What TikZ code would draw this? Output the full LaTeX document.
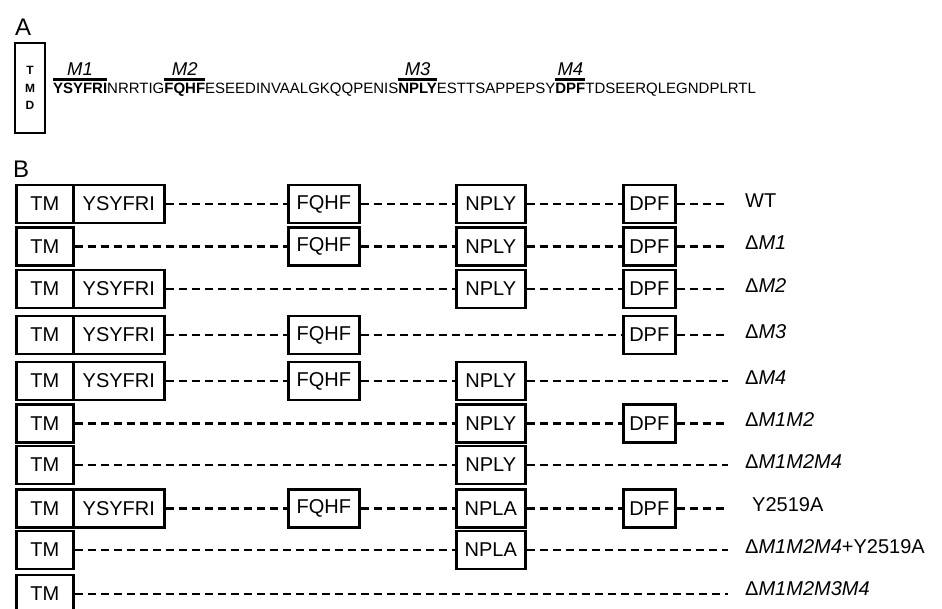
\documentclass[tikz,border=0pt]{standalone}
\usepackage{fontspec}
\setmainfont{Liberation Sans}
\usetikzlibrary{positioning}

\begin{document}
\begin{tikzpicture}[
  x=1pt, y=-1pt,
  box/.style={
    draw, line width=2.6pt, anchor=west,
    minimum height=38pt, inner sep=0pt,
    font=\fontsize{20}{22}\selectfont
  },
  tmbox/.style={box, minimum width=57pt},
  ysybox/.style={box, minimum width=91pt},
  fqhfbox/.style={box, minimum width=71pt},
  nplybox/.style={box, minimum width=69pt},
  dpfbox/.style={box, minimum width=52pt},
  link/.style={line width=2.4pt, dash pattern=on 8pt off 5pt},
  seq/.style={inner sep=0pt, outer sep=0pt, font=\fontsize{15}{17}\selectfont},
  motif/.style={seq, font=\fontsize{15}{17}\selectfont\bfseries},
  mlab/.style={inner sep=0pt, font=\fontsize{18.5}{20}\selectfont\itshape},
  rowlab/.style={anchor=base west, inner sep=0pt, font=\fontsize{20}{22}\selectfont},
  panel/.style={anchor=base west, inner sep=0pt, font=\fontsize{24}{26}\selectfont}
]
  \useasboundingbox (0,0) rectangle (942,608);
  \clip (0,0) rectangle (942,608);

  % panel A
  \node[panel] (pa) at (15,35) {A};
  \node[draw, line width=2.6pt, minimum width=30pt, minimum height=90pt, inner sep=0pt,
        align=center, font=\fontsize{12}{17.5}\selectfont\bfseries] (tmd) at (30,88) {T\\M\\D};

  \node[motif, anchor=base west] (s1) at (53,93) {YSYFRI};
  \node[seq, base right=0pt of s1] (s2) {NRRTIG};
  \node[motif, base right=0pt of s2] (s3) {FQHF};
  \node[seq, base right=0pt of s3] (s4) {ESEEDINVAALGKQQPENIS};
  \node[motif, base right=0pt of s4] (s5) {NPLY};
  \node[seq, base right=0pt of s5] (s6) {ESTTSAPPEPSY};
  \node[motif, base right=0pt of s6] (s7) {DPF};
  \node[seq, base right=0pt of s7] (s8) {TDSEERQLEGNDPLRTL};

  \foreach \s/\m in {s1/M1, s3/M2, s5/M3, s7/M4} {
    \draw[line width=2.8pt] ([yshift=2.8pt]\s.north west) -- ([yshift=2.8pt]\s.north east);
    \node[mlab, above=7pt of \s] (lab\m) {\m};
  }

  % panel B
  \node[panel] (pb) at (13,177) {B};

  % WT
  \node[tmbox] (tm1) at (15,204) {TM};
  \node[ysybox] (ysy1) at (72,204) {YSYFRI};
  \node[fqhfbox] (fqhf1) at (287,204) {FQHF};
  \node[nplybox] (nply1) at (455,204) {NPLY};
  \node[dpfbox] (dpf1) at (622,204) {DPF};
  \coordinate (end1) at (728,204);
  \node[rowlab] (row1) at (745,207) {WT};
  \draw[link] (ysy1) -- (fqhf1) (fqhf1) -- (nply1) (nply1) -- (dpf1) (dpf1) -- (end1);

  % dM1
  \node[tmbox] (tm2) at (15,246.5) {TM};
  \node[fqhfbox] (fqhf2) at (287,246.5) {FQHF};
  \node[nplybox] (nply2) at (455,246.5) {NPLY};
  \node[dpfbox] (dpf2) at (622,246.5) {DPF};
  \coordinate (end2) at (728,246.5);
  \node[rowlab] (row2) at (745,249.5) {Δ\textit{M1}};
  \draw[link] (tm2) -- (fqhf2) (fqhf2) -- (nply2) (nply2) -- (dpf2) (dpf2) -- (end2);

  % dM2
  \node[tmbox] (tm3) at (15,289) {TM};
  \node[ysybox] (ysy3) at (72,289) {YSYFRI};
  \node[nplybox] (nply3) at (455,289) {NPLY};
  \node[dpfbox] (dpf3) at (622,289) {DPF};
  \coordinate (end3) at (728,289);
  \node[rowlab] (row3) at (745,292) {Δ\textit{M2}};
  \draw[link] (ysy3) -- (nply3) (nply3) -- (dpf3) (dpf3) -- (end3);

  % dM3
  \node[tmbox] (tm4) at (15,335) {TM};
  \node[ysybox] (ysy4) at (72,335) {YSYFRI};
  \node[fqhfbox] (fqhf4) at (287,335) {FQHF};
  \node[dpfbox] (dpf4) at (622,335) {DPF};
  \coordinate (end4) at (728,335);
  \node[rowlab] (row4) at (745,338) {Δ\textit{M3}};
  \draw[link] (ysy4) -- (fqhf4) (fqhf4) -- (dpf4) (dpf4) -- (end4);

  % dM4
  \node[tmbox] (tm5) at (15,381) {TM};
  \node[ysybox] (ysy5) at (72,381) {YSYFRI};
  \node[fqhfbox] (fqhf5) at (287,381) {FQHF};
  \node[nplybox] (nply5) at (455,381) {NPLY};
  \coordinate (end5) at (728,381);
  \node[rowlab] (row5) at (745,384) {Δ\textit{M4}};
  \draw[link] (ysy5) -- (fqhf5) (fqhf5) -- (nply5) (nply5) -- (end5);

  % dM1M2
  \node[tmbox] (tm6) at (15,423.5) {TM};
  \node[nplybox] (nply6) at (455,423.5) {NPLY};
  \node[dpfbox] (dpf6) at (622,423.5) {DPF};
  \coordinate (end6) at (728,423.5);
  \node[rowlab] (row6) at (745,426.5) {Δ\textit{M1M2}};
  \draw[link] (tm6) -- (nply6) (nply6) -- (dpf6) (dpf6) -- (end6);

  % dM1M2M4
  \node[tmbox] (tm7) at (15,465) {TM};
  \node[nplybox] (nply7) at (455,465) {NPLY};
  \coordinate (end7) at (728,465);
  \node[rowlab] (row7) at (745,468) {Δ\textit{M1M2M4}};
  \draw[link] (tm7) -- (nply7) (nply7) -- (end7);

  % Y2519A
  \node[tmbox] (tm8) at (15,508.5) {TM};
  \node[ysybox] (ysy8) at (72,508.5) {YSYFRI};
  \node[fqhfbox] (fqhf8) at (287,508.5) {FQHF};
  \node[nplybox] (npla8) at (455,508.5) {NPLA};
  \node[dpfbox] (dpf8) at (622,508.5) {DPF};
  \coordinate (end8) at (728,508.5);
  \node[rowlab] (row8) at (752,511.5) {Y2519A};
  \draw[link] (ysy8) -- (fqhf8) (fqhf8) -- (npla8) (npla8) -- (dpf8) (dpf8) -- (end8);

  % dM1M2M4+Y2519A
  \node[tmbox] (tm9) at (15,550) {TM};
  \node[nplybox] (npla9) at (455,550) {NPLA};
  \coordinate (end9) at (728,550);
  \node[rowlab] (row9) at (745,553) {Δ\textit{M1M2M4}+Y2519A};
  \draw[link] (tm9) -- (npla9) (npla9) -- (end9);

  % dM1M2M3M4
  \node[tmbox] (tm10) at (15,594) {TM};
  \coordinate (end10) at (728,594);
  \node[rowlab] (row10) at (745,595) {Δ\textit{M1M2M3M4}};
  \draw[link] (tm10) -- (end10);
\end{tikzpicture}
\end{document}
